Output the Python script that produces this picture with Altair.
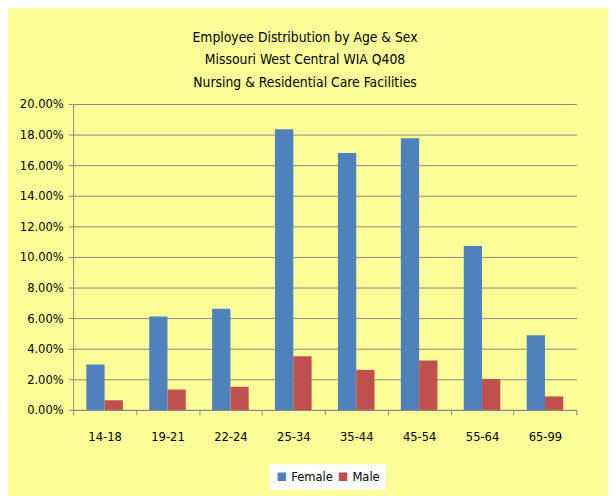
import altair as alt
import pandas as pd

ages = ["14-18", "19-21", "22-24", "25-34", "35-44", "45-54", "55-64", "65-99"]
female = [0.0297, 0.0611, 0.0662, 0.1834, 0.1680, 0.1776, 0.1071, 0.0488]
male = [0.0063, 0.0133, 0.0151, 0.0350, 0.0262, 0.0323, 0.0202, 0.0088]
sexes = ["Female", "Male"]
colors = ["#4F81BD", "#C0504D"]
y_ticks = [0.0, 0.02, 0.04, 0.06, 0.08, 0.10, 0.12, 0.14, 0.16, 0.18, 0.20]
title_lines = [
    "Employee Distribution by Age & Sex",
    "Missouri  West Central WIA Q408",
    "Nursing & Residential Care Facilities",
]

rows = []
for a, f, m in zip(ages, female, male):
    rows.append({"Age": a, "Sex": "Female", "Share": f})
    rows.append({"Age": a, "Sex": "Male", "Share": m})
df = pd.DataFrame(rows)

FONT = "Liberation Sans Narrow, DejaVu Sans Condensed, Arial Narrow, sans-serif"
GRID = "#878787"

chart = (
    alt.Chart(
        df,
        title=alt.Title(
            title_lines,
            fontSize=14,
            fontWeight="normal",
            font=FONT,
            color="black",
            lineHeight=23,
            anchor="middle",
            offset=8,
            dx=-20,
        ),
    )
    .mark_bar()
    .encode(
        x=alt.X(
            "Age:N",
            sort=ages,
            scale=alt.Scale(paddingInner=0, paddingOuter=0),
            axis=alt.Axis(
                title=None,
                labelAngle=0,
                tickBand="extent",
                labelFont=FONT,
                labelFontSize=13,
                labelColor="black",
                labelPadding=16,
                tickSize=5,
                tickColor=GRID,
                domainColor=GRID,
                grid=False,
            ),
        ),
        xOffset=alt.XOffset(
            "Sex:N", sort=sexes, scale=alt.Scale(paddingInner=0, paddingOuter=0.72)
        ),
        y=alt.Y(
            "Share:Q",
            scale=alt.Scale(domain=[0, 0.2], nice=False),
            axis=alt.Axis(
                title=None,
                format=".2%",
                values=y_ticks,
                labelFont=FONT,
                labelFontSize=13,
                labelColor="black",
                labelPadding=5,
                tickSize=5,
                tickColor=GRID,
                domainColor=GRID,
                gridColor=GRID,
                gridOpacity=1,
            ),
        ),
        color=alt.Color(
            "Sex:N",
            sort=sexes,
            scale=alt.Scale(domain=sexes, range=colors),
            legend=alt.Legend(
                title=None,
                orient="none",
                legendX=199,
                legendY=365,
                direction="horizontal",
                symbolType="square",
                symbolSize=75,
                symbolStrokeWidth=0,
                labelFont=FONT,
                labelFontSize=13,
                labelColor="black",
                labelOffset=3,
                columnPadding=3,
                fillColor="white",
                padding=6,
            ),
        ),
    )
    .properties(
        width=510,
        height=310,
        background="#FFFF99",
        padding={"left": 66, "top": 94, "right": 32, "bottom": 84},
        autosize=alt.AutoSizeParams(type="none"),
    )
    .configure_view(stroke=None)
)

chart.save("out.html", embed_options={"renderer": "svg", "actions": False})
